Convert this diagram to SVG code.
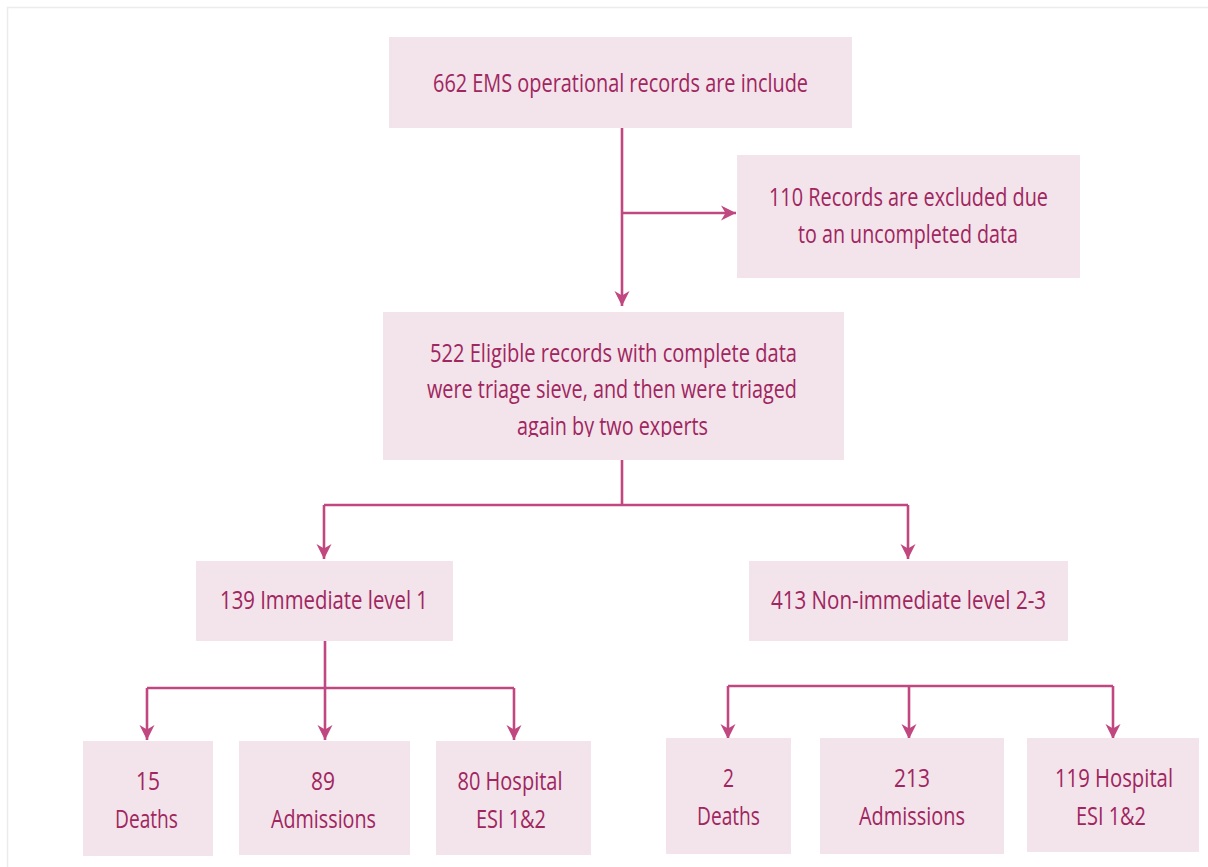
<svg xmlns="http://www.w3.org/2000/svg" width="1208" height="867" viewBox="0 0 1208 867">
<style>
.box{fill:#F3E3EB}
.t{font-family:"Open Sans","Noto Sans",sans-serif;font-size:25px;fill:#A0265F;text-anchor:middle}
.c{fill:none;stroke:#C0477F;stroke-width:2.6}
.frame{fill:none;stroke:#ECECEC;stroke-width:1.5}
</style>
<defs>
<marker id="ah" viewBox="0 0 17 17" refX="16" refY="8.5" markerWidth="17" markerHeight="17" markerUnits="userSpaceOnUse" orient="auto">
<path d="M1,1 L16,8.5 L1,16 L5.5,8.5 Z" fill="#C0477F"/>
</marker>
<clipPath id="clipMid"><rect x="383" y="312" width="461" height="125"/></clipPath>
</defs>
<rect width="1208" height="867" fill="#fff"/>
<path class="frame" d="M7.5,867 V7.5 H1208"/>

<g id="connectors">
<path class="c" d="M622,128 V306" marker-end="url(#ah)"/>
<path class="c" d="M622,213 H736" marker-end="url(#ah)"/>
<path class="c" d="M622,460 V505"/>
<path class="c" d="M324,505 H908"/>
<path class="c" d="M324,505 V559" marker-end="url(#ah)"/>
<path class="c" d="M908,505 V559" marker-end="url(#ah)"/>
<path class="c" d="M325,641 V688"/>
<path class="c" d="M147,688 H514"/>
<path class="c" d="M147,688 V740" marker-end="url(#ah)"/>
<path class="c" d="M325,688 V740" marker-end="url(#ah)"/>
<path class="c" d="M514,688 V740" marker-end="url(#ah)"/>
<path class="c" d="M728,686 H1113"/>
<path class="c" d="M728,686 V739" marker-end="url(#ah)"/>
<path class="c" d="M909,686 V739" marker-end="url(#ah)"/>
<path class="c" d="M1113,686 V739" marker-end="url(#ah)"/>
</g>

<g id="n-included">
<rect class="box" x="389" y="37" width="463" height="91"/>
<text class="t" x="620.5" y="92" textLength="375" lengthAdjust="spacingAndGlyphs">662 EMS operational records are include</text>
</g>
<g id="n-excluded">
<rect class="box" x="737" y="155" width="343" height="123"/>
<text class="t" x="908.5" y="206" textLength="279" lengthAdjust="spacingAndGlyphs">110 Records are excluded due</text>
<text class="t" x="908" y="243" textLength="220" lengthAdjust="spacingAndGlyphs">to an uncompleted data</text>
</g>
<g id="n-eligible">
<rect class="box" x="383" y="312" width="461" height="148"/>
<g clip-path="url(#clipMid)">
<text class="t" x="613.5" y="362" textLength="367" lengthAdjust="spacingAndGlyphs">522 Eligible records with complete data</text>
<text class="t" x="612" y="398" textLength="370" lengthAdjust="spacingAndGlyphs">were triage sieve, and then were triaged</text>
<text class="t" x="612.5" y="435" textLength="191" lengthAdjust="spacingAndGlyphs">again by two experts</text>
</g>
</g>
<g id="n-immediate">
<rect class="box" x="196" y="561" width="257" height="80"/>
<text class="t" x="324" y="609" textLength="208" lengthAdjust="spacingAndGlyphs">139 Immediate level 1</text>
</g>
<g id="n-nonimmediate">
<rect class="box" x="749" y="561" width="319" height="80"/>
<text class="t" x="908.5" y="609" textLength="275" lengthAdjust="spacingAndGlyphs">413 Non-immediate level 2-3</text>
</g>
<g id="n-deaths1">
<rect class="box" x="83" y="741" width="130" height="115"/>
<text class="t" x="148" y="790" textLength="24" lengthAdjust="spacingAndGlyphs">15</text>
<text class="t" x="146.5" y="828" textLength="63" lengthAdjust="spacingAndGlyphs">Deaths</text>
</g>
<g id="n-adm1">
<rect class="box" x="239" y="741" width="171" height="114"/>
<text class="t" x="323" y="790" textLength="24" lengthAdjust="spacingAndGlyphs">89</text>
<text class="t" x="323.5" y="828" textLength="105" lengthAdjust="spacingAndGlyphs">Admissions</text>
</g>
<g id="n-hosp1">
<rect class="box" x="436" y="741" width="155" height="114"/>
<text class="t" x="510" y="790" textLength="105" lengthAdjust="spacingAndGlyphs">80 Hospital</text>
<text class="t" x="511" y="828" textLength="70" lengthAdjust="spacingAndGlyphs">ESI 1&amp;2</text>
</g>
<g id="n-deaths2">
<rect class="box" x="666" y="738" width="125" height="116"/>
<text class="t" x="728.5" y="787" textLength="11" lengthAdjust="spacingAndGlyphs">2</text>
<text class="t" x="728.5" y="825" textLength="63" lengthAdjust="spacingAndGlyphs">Deaths</text>
</g>
<g id="n-adm2">
<rect class="box" x="820" y="738" width="184" height="116"/>
<text class="t" x="912" y="787" textLength="36" lengthAdjust="spacingAndGlyphs">213</text>
<text class="t" x="912" y="825" textLength="106" lengthAdjust="spacingAndGlyphs">Admissions</text>
</g>
<g id="n-hosp2">
<rect class="box" x="1027" y="738" width="172" height="114"/>
<text class="t" x="1114" y="787" textLength="118" lengthAdjust="spacingAndGlyphs">119 Hospital</text>
<text class="t" x="1111" y="825" textLength="70" lengthAdjust="spacingAndGlyphs">ESI 1&amp;2</text>
</g>
</svg>
